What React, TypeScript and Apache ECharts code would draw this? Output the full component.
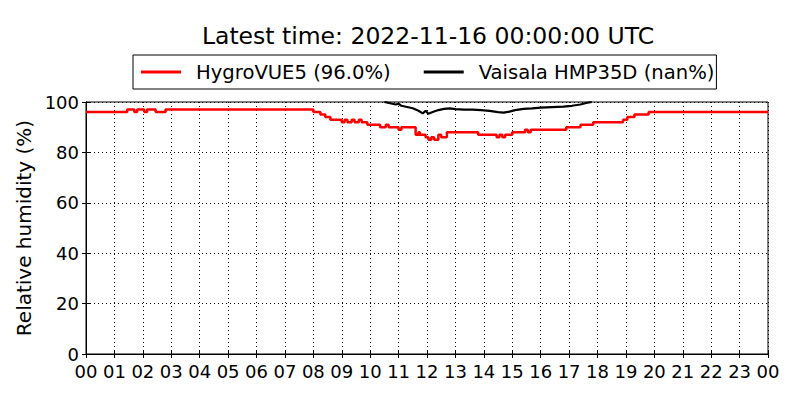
import React, { useEffect, useRef } from "react";
import * as echarts from "echarts";

const titleText = "Latest time: 2022-11-16 00:00:00 UTC";
const seriesNames = ["HygroVUE5 (96.0%)", "Vaisala HMP35D (nan%)"];
const hourTicks = Array.from({ length: 25 }, (_, i) => i);
const yTicks = [0, 20, 40, 60, 80, 100];

// HygroVUE5: [hour, RH %] breakpoints (value held until next breakpoint)
const hygroHours = [0, 1.45, 1.7, 1.8, 2.05, 2.15, 2.45, 2.8, 8.0, 8.25, 8.42, 8.6, 9.0, 9.1, 9.2, 9.35, 9.45, 9.6, 9.7, 9.9, 10.35, 10.55, 10.65, 11.0, 11.1, 11.6, 11.7, 11.75, 11.95, 12.05, 12.15, 12.25, 12.4, 12.5, 12.7, 13.8, 14.45, 14.55, 14.65, 14.75, 15.0, 15.45, 15.55, 15.65, 16.9, 17.4, 17.85, 18.9, 19.05, 19.3, 19.8, 24];
const hygroValues = [96, 97, 96, 97, 96, 97, 96, 97, 96, 95, 94, 93, 92, 93, 92, 93, 92, 93, 92, 91, 90, 91, 90, 89, 90, 87, 88, 87, 86, 85, 86, 85, 87, 86, 88, 87, 86, 87, 86, 87, 88, 89, 88, 89, 90, 91, 92, 93, 94, 95, 96, 96];

// Vaisala HMP35D: [hour, RH %]
const vaisalaHours = [10.5, 10.7, 10.9, 11.0, 11.1, 11.3, 11.5, 11.7, 11.85, 11.95, 12.05, 12.2, 12.4, 12.6, 12.8, 13.0, 13.3, 13.6, 13.9, 14.2, 14.5, 14.7, 14.9, 15.1, 15.4, 15.7, 16.0, 16.4, 16.8, 17.1, 17.4, 17.6, 17.8];
const vaisalaValues = [100, 99.5, 99, 99.3, 98.5, 98, 97.5, 96.5, 95.5, 96.5, 95.3, 96, 96.8, 97.3, 97.5, 97.2, 97, 97, 96.8, 96.5, 96, 95.8, 96.2, 96.8, 97.3, 97.5, 97.8, 98, 98.2, 98.5, 99, 99.6, 100];

const FONT = "DejaVu Sans";

export default function App() {
  const ref = useRef<HTMLDivElement>(null);
  useEffect(() => {
    if (!ref.current) return;
    const chart = echarts.init(ref.current, null, { renderer: "svg" });
    const hygro = hygroHours.map((h, i) => [h, hygroValues[i]]);
    const vais = vaisalaHours.map((h, i) => [h, vaisalaValues[i]]);
    const xBase = {
      type: "value" as const,
      min: hourTicks[0],
      max: hourTicks[hourTicks.length - 1],
      interval: 1,
    };
    const yBase = {
      type: "value" as const,
      min: yTicks[0],
      max: yTicks[yTicks.length - 1],
      interval: 20,
    };
    chart.setOption({
      animation: false,
      backgroundColor: "#fff",
      title: {
        text: titleText,
        left: 423,
        textAlign: "center",
        top: 19,
        textStyle: { fontFamily: FONT, fontSize: 23.5, fontWeight: "normal", color: "#000" },
      },
      legend: {
        left: 133,
        top: 55,
        itemWidth: 40,
        itemHeight: 3,
        itemGap: 33,
        icon: "rect",
        padding: [7, 2, 7, 8],
        borderColor: "#000",
        borderWidth: 1,
        borderRadius: 0,
        textStyle: { fontFamily: FONT, fontSize: 19.6, color: "#000", padding: [0, 0, 0, 10] },
        data: seriesNames,
      },
      grid: {
        left: 86,
        right: 32,
        top: 102,
        bottom: 46,
        show: true,
        borderColor: "#000",
        borderWidth: 1,
        backgroundColor: "transparent",
      },
      xAxis: [
        {
          ...xBase,
          position: "bottom",
          axisLine: { show: true, lineStyle: { color: "#000", width: 1 } },
          axisTick: { show: true, inside: true, length: 4, lineStyle: { color: "#000" } },
          axisLabel: {
            fontFamily: FONT,
            fontSize: 18,
            lineHeight: 14,
            color: "#000",
            margin: 10,
            formatter: (v: number) => String(v % 24).padStart(2, "0"),
          },
          splitLine: { show: true, lineStyle: { color: "#000", type: [1, 3], width: 1 } },
        },
        {
          ...xBase,
          position: "top",
          axisLine: { show: true, lineStyle: { color: "#000", width: 1 } },
          axisTick: { show: true, inside: true, length: 4, lineStyle: { color: "#000" } },
          axisLabel: { show: false },
          splitLine: { show: false },
        },
      ],
      yAxis: [
        {
          ...yBase,
          position: "left",
          name: "Relative humidity (%)",
          nameLocation: "middle",
          nameGap: 44,
          nameTextStyle: { fontFamily: FONT, fontSize: 20, color: "#000" },
          axisLine: { show: true, lineStyle: { color: "#000", width: 1 } },
          axisTick: { show: true, inside: true, length: 4, lineStyle: { color: "#000" } },
          axisLabel: { fontFamily: FONT, fontSize: 18, lineHeight: 14, color: "#000", margin: 7 },
          splitLine: { show: true, lineStyle: { color: "#000", type: [1, 3], width: 1 } },
        },
        {
          ...yBase,
          position: "right",
          axisLine: { show: true, lineStyle: { color: "#000", width: 1 } },
          axisTick: { show: true, inside: true, length: 4, lineStyle: { color: "#000" } },
          axisLabel: { show: false },
          splitLine: { show: false },
        },
      ],
      series: [
        {
          name: seriesNames[0],
          type: "line",
          data: hygro,
          step: "end",
          showSymbol: false,
          symbol: "none",
          clip: true,
          color: "#ff0000",
          lineStyle: { color: "#ff0000", width: 2.5 },
          z: 3,
        },
        {
          name: seriesNames[1],
          type: "line",
          data: vais,
          showSymbol: false,
          symbol: "none",
          clip: true,
          color: "#000",
          lineStyle: { color: "#000", width: 2.2 },
          z: 4,
        },
      ],
    });
    return () => chart.dispose();
  }, []);
  return <div ref={ref} style={{ width: 800, height: 400, position: "absolute", left: 0, top: 0 }} />;
}
